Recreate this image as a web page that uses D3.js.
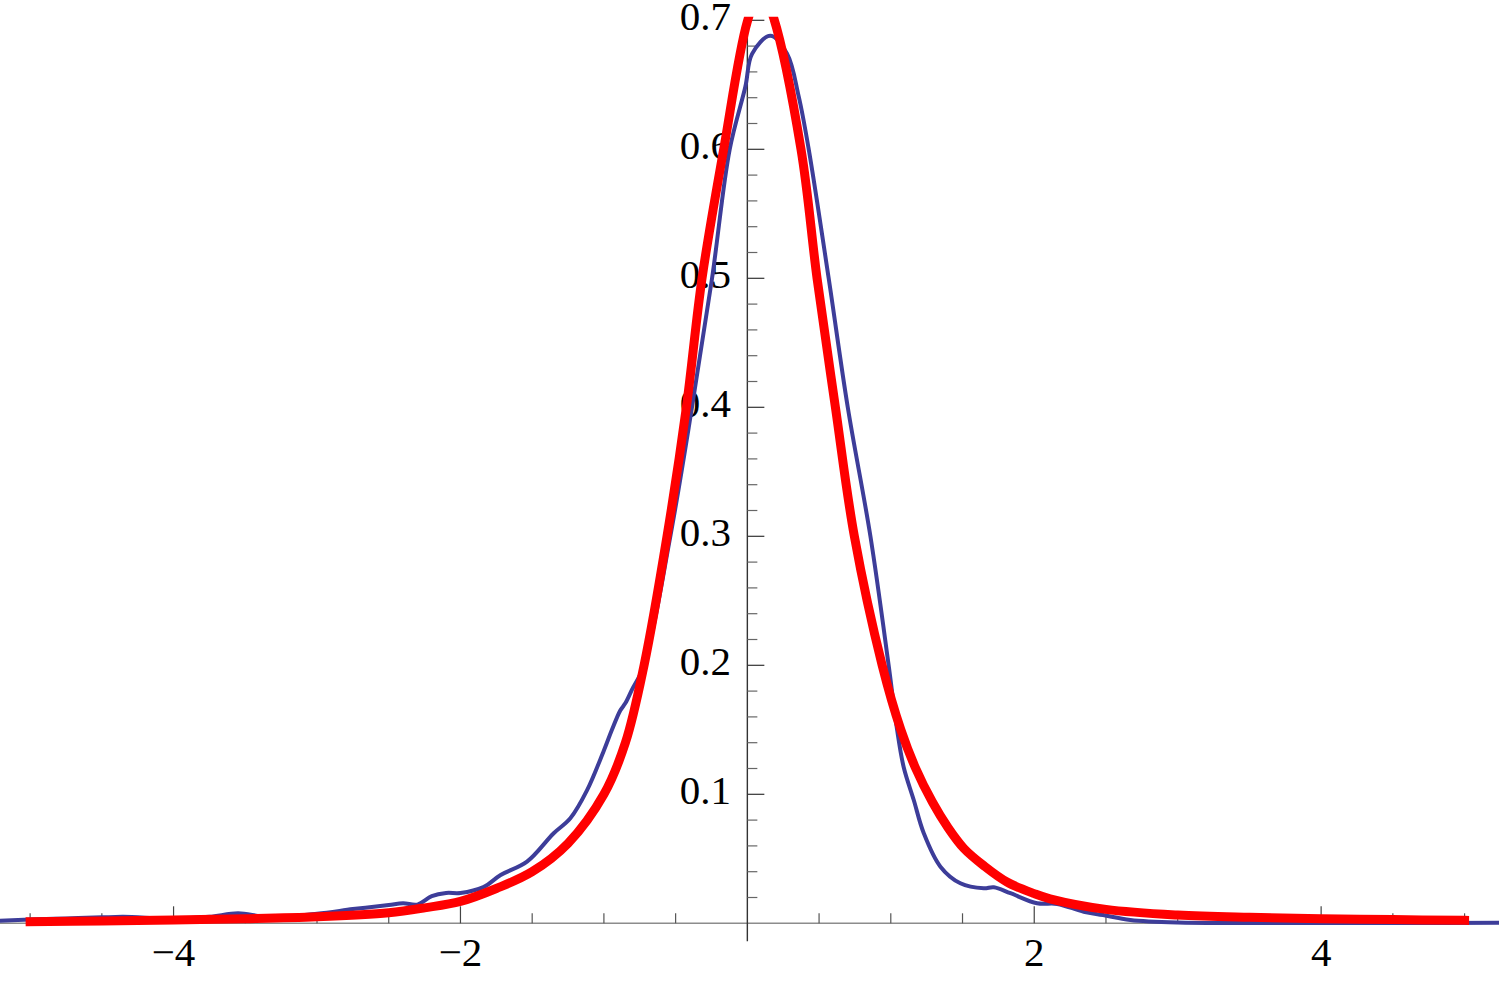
<!DOCTYPE html>
<html>
<head>
<meta charset="utf-8">
<script src="https://cdn.jsdelivr.net/npm/d3@7"></script>
<style>
  html, body { margin: 0; padding: 0; background: #fff; }
  svg { display: block; }
</style>
</head>
<body>
<svg id="chart" width="1499" height="983"></svg>
<script>
// ---- data ----
const fitX = [-5.0, -4.5, -4.0, -3.5, -3.0, -2.5, -2.25, -2.0, -1.75, -1.5, -1.25, -1.0, -0.85, -0.72, -0.56, -0.425, -0.316, -0.165, 0.0, 0.095, 0.183, 0.374, 0.486, 0.614, 0.746, 0.94, 1.07, 1.17, 1.29, 1.40, 1.51, 1.65, 1.81, 2.0, 2.11, 2.5, 3.0, 3.5, 4.0, 4.5, 5.0];
const fitY = [0.0012, 0.0018, 0.0026, 0.0035, 0.0050, 0.0082, 0.0120, 0.0170, 0.0270, 0.0400, 0.0620, 0.1000, 0.1400, 0.2000, 0.3000, 0.4000, 0.5000, 0.6000, 0.6990, 0.7250, 0.7020, 0.6000, 0.5000, 0.4000, 0.3000, 0.2000, 0.1500, 0.1210, 0.0940, 0.0740, 0.0580, 0.0445, 0.0320, 0.0230, 0.0190, 0.0108, 0.0064, 0.0046, 0.0036, 0.0029, 0.0023];

const kdeX = [-5.3, -5.0, -4.75, -4.5, -4.35, -4.0, -3.75, -3.55, -3.35, -3.0, -2.75, -2.5, -2.4, -2.3, -2.2, -2.1, -2.0, -1.84, -1.72, -1.536, -1.35, -1.234, -1.118, -1.0, -0.944, -0.886, -0.851, -0.805, -0.72, -0.537, -0.386, -0.246, -0.123, -0.014, 0.033, 0.16, 0.277, 0.358, 0.428, 0.567, 0.70, 0.858, 0.985, 1.044, 1.09, 1.16, 1.23, 1.346, 1.485, 1.648, 1.718, 1.834, 2.02, 2.16, 2.345, 2.48, 2.67, 3.0, 3.5, 4.0, 4.5, 5.3];
const kdeY = [0.0015, 0.0030, 0.0038, 0.0046, 0.0050, 0.0036, 0.0050, 0.0078, 0.0050, 0.0075, 0.0110, 0.0142, 0.0155, 0.0145, 0.0210, 0.0235, 0.0235, 0.0280, 0.0374, 0.0478, 0.0698, 0.0814, 0.1030, 0.1340, 0.1500, 0.1650, 0.1705, 0.1810, 0.2000, 0.3000, 0.4000, 0.5000, 0.6000, 0.6485, 0.6740, 0.6880, 0.6740, 0.6410, 0.6000, 0.5000, 0.4000, 0.3000, 0.2000, 0.1500, 0.1210, 0.0956, 0.0698, 0.0439, 0.0310, 0.0271, 0.0279, 0.0233, 0.0155, 0.0150, 0.0090, 0.0064, 0.0026, 0.0006, 0.0003, 0.0003, 0.0002, 0.0004];

const xMajorTicks = [-4, -2, 2, 4];
const xTickLabels = ["\u22124", "\u22122", "2", "4"];
const yMajorTicks = [0.1, 0.2, 0.3, 0.4, 0.5, 0.6, 0.7];
const yTickLabels = ["0.1", "0.2", "0.3", "0.4", "0.5", "0.6", "0.7"];

// ---- scales ----
const W = 1499, H = 983;
const FONT = "'Liberation Serif', 'Times New Roman', Times, 'DejaVu Serif', serif";
const x = d3.scaleLinear().domain([-5.21, 5.24]).range([0, W]);
const y = d3.scaleLinear().domain([0, 0.7]).range([923.3, 20.3]);

const svg = d3.select("#chart");

svg.append("defs").append("clipPath").attr("id", "plotclip")
  .append("rect").attr("x", 0).attr("y", 16.7).attr("width", W).attr("height", 923.3 - 16.7 + 20);

const x0 = x(0), yZero = y(0);

// ---- axes ----
const axes = svg.append("g");
axes.append("line").attr("x1", 0).attr("x2", W).attr("y1", yZero).attr("y2", yZero)
  .attr("stroke", "#8c8c8c").attr("stroke-width", 1.4);
axes.append("line").attr("x1", x0).attr("x2", x0).attr("y1", y(0.7) - 2).attr("y2", yZero + 18)
  .attr("stroke", "#333").attr("stroke-width", 1.4);

const xMinor = d3.range(-10, 11).map(d => d / 2).filter(d => d !== 0 && !xMajorTicks.includes(d));
axes.selectAll(".xminor").data(xMinor).join("line")
  .attr("x1", d => x(d)).attr("x2", d => x(d))
  .attr("y1", yZero).attr("y2", yZero - 10)
  .attr("stroke", "#555").attr("stroke-width", 1.2);
axes.selectAll(".xmajor").data(xMajorTicks).join("line")
  .attr("x1", d => x(d)).attr("x2", d => x(d))
  .attr("y1", yZero).attr("y2", yZero - 17)
  .attr("stroke", "#444").attr("stroke-width", 1.2);

const yMinor = d3.range(1, 36).map(d => +(d * 0.02).toFixed(2)).filter(d => Math.abs(d * 10 - Math.round(d * 10)) > 1e-6);
axes.selectAll(".yminor").data(yMinor).join("line")
  .attr("x1", x0).attr("x2", x0 + 10)
  .attr("y1", d => y(d)).attr("y2", d => y(d))
  .attr("stroke", "#666").attr("stroke-width", 1.2);
axes.selectAll(".ymajor").data(yMajorTicks).join("line")
  .attr("x1", x0).attr("x2", x0 + 17)
  .attr("y1", d => y(d)).attr("y2", d => y(d))
  .attr("stroke", "#333").attr("stroke-width", 1.2);

axes.selectAll(".xlab").data(xMajorTicks).join("text")
  .attr("x", d => x(d)).attr("y", yZero + 42.7)
  .attr("text-anchor", "middle").attr("font-size", 41)
  .attr("font-family", FONT).attr("fill", "#000")
  .text((d, i) => xTickLabels[i]);
axes.selectAll(".ylab").data(yMajorTicks).join("text")
  .attr("x", 731).attr("y", d => y(d) + 9.2)
  .attr("text-anchor", "end").attr("font-size", 41)
  .attr("font-family", FONT).attr("fill", "#000")
  .text((d, i) => yTickLabels[i]);

// ---- curves ----
const plot = svg.append("g").attr("clip-path", "url(#plotclip)");
const line = d3.line().x(d => x(d[0])).y(d => y(d[1])).curve(d3.curveCatmullRom.alpha(0.5));

plot.append("path").datum(d3.zip(kdeX, kdeY))
  .attr("d", line).attr("fill", "none")
  .attr("stroke", "#3d3d99").attr("stroke-width", 4).attr("stroke-linejoin", "round");

plot.append("path").datum(d3.zip(fitX, fitY))
  .attr("d", line).attr("fill", "none")
  .attr("stroke", "#ff0000").attr("stroke-width", 9)
  .attr("stroke-linecap", "square").attr("stroke-linejoin", "round");
</script>
</body>
</html>
